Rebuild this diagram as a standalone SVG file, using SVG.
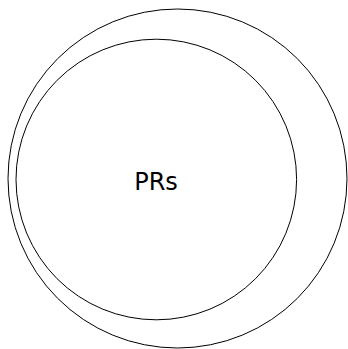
<svg xmlns="http://www.w3.org/2000/svg" width="348" height="349" viewBox="0 0 348 349">
<style>
.c{fill:none;stroke:#000;stroke-width:1}
.t{font-family:"DejaVu Sans",sans-serif;font-size:24px;fill:#000}
</style>
<rect width="348" height="349" fill="#fff"/>
<g id="outer"><circle class="c" cx="177.5" cy="178.5" r="169.5"/></g>
<g id="prs"><circle class="c" cx="156.3" cy="179.5" r="140.3"/><text class="t" x="156" y="190" text-anchor="middle">PRs</text></g>
</svg>
